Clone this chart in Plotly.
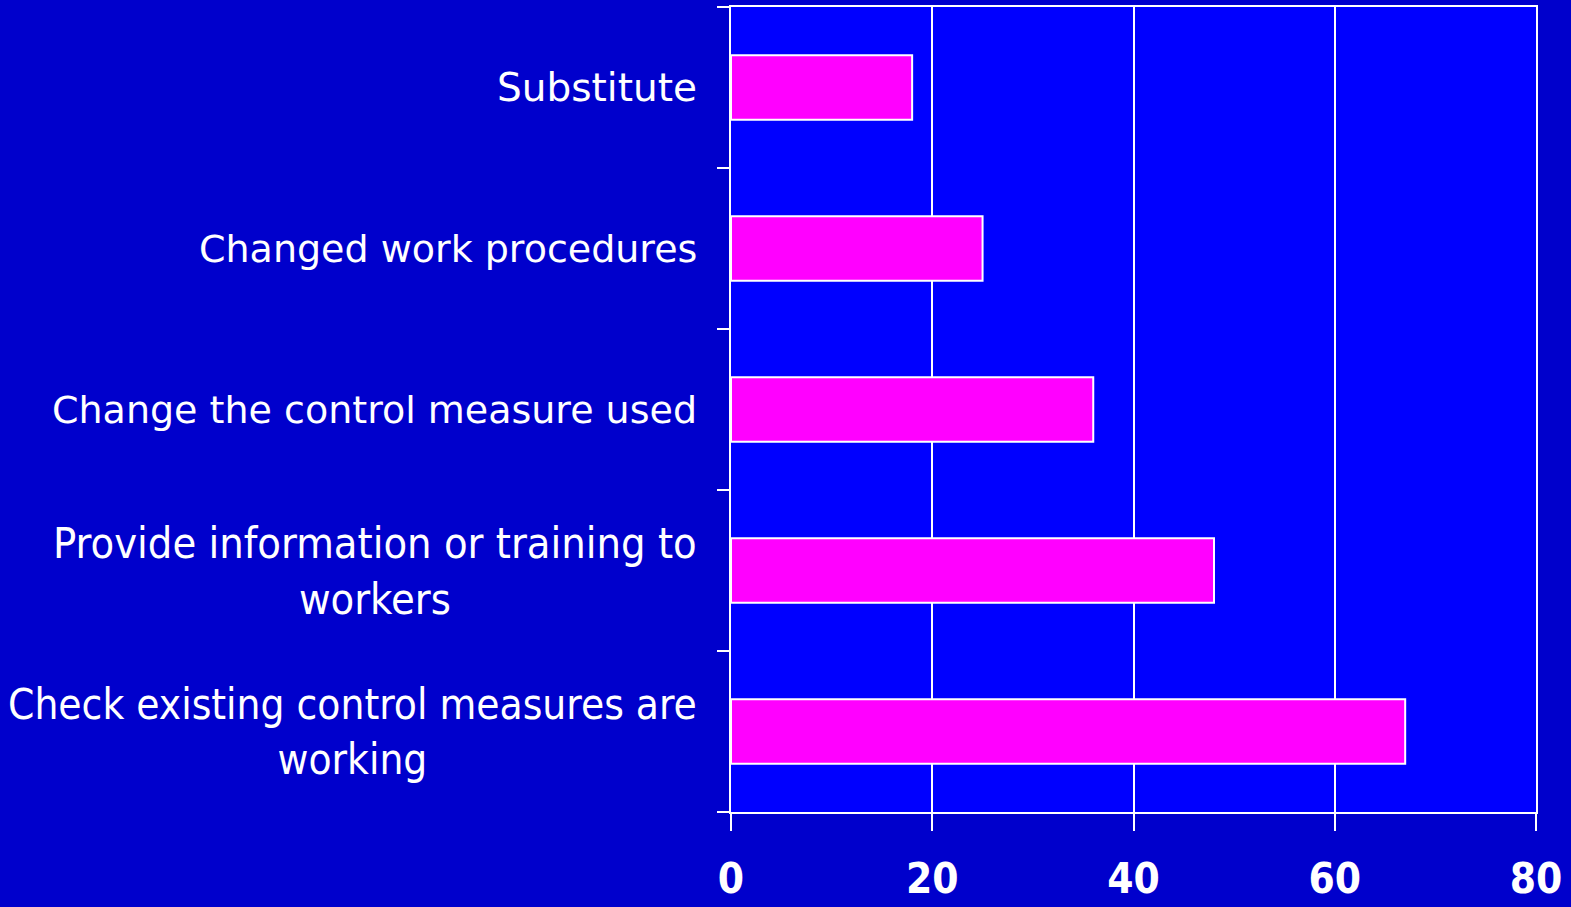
import plotly.graph_objects as go

categories = [
    "Substitute",
    "Changed work procedures",
    "Change the control measure used",
    "Provide information or training to<br>workers",
    "Check existing control measures are<br>working",
]
values = [18, 25, 36, 48, 67]
x_ticks = [0, 20, 40, 60, 80]

fig = go.Figure()
fig.add_trace(go.Bar(
    y=categories, x=values, orientation="h",
    marker=dict(color="#FF00FF", line=dict(color="white", width=2)),
    width=0.4,
))

label_fonts = [
    dict(family="DejaVu Sans", size=39),
    dict(family="DejaVu Sans", size=38),
    dict(family="DejaVu Sans", size=38),
    dict(family="DejaVu Sans Condensed, DejaVu Sans", size=43),
    dict(family="DejaVu Sans Condensed, DejaVu Sans", size=42),
]
for cat, f in zip(categories, label_fonts):
    fig.add_annotation(
        x=0, xref="paper", y=cat, yref="y", xanchor="right", yanchor="middle",
        xshift=-32, text=cat, showarrow=False, align="center",
        font=dict(color="white", **f),
    )

fig.update_layout(
    width=1571, height=907,
    paper_bgcolor="#0000CC", plot_bgcolor="#0000FF",
    margin=dict(l=731, r=35, t=7, b=95, autoexpand=False),
    showlegend=False,
    bargap=0.6,
)
fig.update_xaxes(
    range=[0, 80], tickvals=x_ticks, showgrid=True, gridcolor="white", gridwidth=1.5,
    showline=True, linecolor="white", linewidth=2, mirror=True,
    ticks="outside", ticklen=17, tickcolor="white", tickwidth=1.5,
    tickfont=dict(family="DejaVu Sans Condensed, DejaVu Sans", size=42, color="white", weight="bold"),
    ticklabelstandoff=12, zeroline=False, automargin=False,
)
fig.update_yaxes(
    categoryorder="array", categoryarray=categories[::-1],
    showticklabels=False, tickson="boundaries", ticks="outside", ticklen=12,
    tickcolor="white", tickwidth=2, automargin=False,
    showline=True, linecolor="white", linewidth=2, mirror=True, showgrid=False,
)
fig.write_html(
    "out.html",
    config={"displayModeBar": False},
    post_script="document.body.style.margin='0';document.body.style.background='#0000CC';",
)
